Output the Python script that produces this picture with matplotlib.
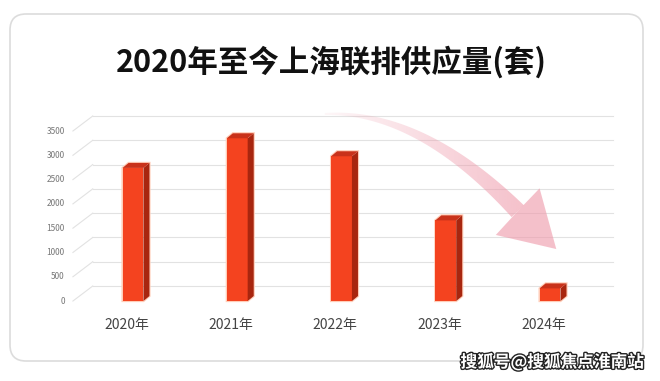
import matplotlib
matplotlib.use("Agg")
import matplotlib.pyplot as plt
from matplotlib.patches import Polygon, FancyBboxPatch
import matplotlib.patheffects as pe
import numpy as np

plt.rcParams['font.family'] = ['Noto Sans CJK SC', 'DejaVu Sans']

# data
years = ['2020年', '2021年', '2022年', '2023年', '2024年']
supply = [2740, 3350, 2980, 1660, 260]
y_ticks = [0, 500, 1000, 1500, 2000, 2500, 3000, 3500]
title = '2020年至今上海联排供应量(套)'
watermark = '搜狐号@搜狐焦点淮南站'

W, H = 660, 381
fig = plt.figure(figsize=(W / 100, H / 100), dpi=100)
fig.patch.set_facecolor('white')

# rounded card
card = FancyBboxPatch((10, H - 361), 633, 347, boxstyle='round,pad=0,rounding_size=16',
                      transform=None, facecolor='none', edgecolor='#dcdcdc', lw=1.2,
                      zorder=-1)
fig.patches.append(card)

# axes placed so value 0 sits at y=301px, 3500 at 131px
ax = fig.add_axes([60 / W, (H - 315.6) / H, 563 / W, 218.6 / H])
ax.set_xlim(-0.7, 4.7)
ax.set_ylim(-300, 4200)
ax.axis('off')

wall_dx, wall_dy = 0.19, 309     # back wall offset (data units)
bw = 0.2                         # bar front width
dx, dy = 0.058, 103              # bar depth

# grid on back wall + perspective diagonals
for v in y_ticks:
    ax.plot([-0.576, -0.576 + wall_dx], [v, v + wall_dy], color='#e2e2e2', lw=0.8, zorder=1)
    ax.plot([-0.576 + wall_dx, 4.6], [v + wall_dy, v + wall_dy], color='#e2e2e2', lw=0.8, zorder=1)
    ax.text(-0.655, v, str(v), ha='right', va='center', fontsize=6, color='#777777')

# 3D-ish bars
for i, v in enumerate(supply):
    x0, x1 = i - bw / 2, i + bw / 2
    front = Polygon([(x0, 0), (x1, 0), (x1, v), (x0, v)], closed=True,
                    facecolor='#f4431f', edgecolor='none', zorder=3)
    side = Polygon([(x1, 0), (x1 + dx, dy), (x1 + dx, v + dy), (x1, v)], closed=True,
                   facecolor='#a8260f', edgecolor='none', zorder=3)
    top = Polygon([(x0, v), (x1, v), (x1 + dx, v + dy), (x0 + dx, v + dy)], closed=True,
                  facecolor='#c9321a', edgecolor='none', zorder=3)
    outline = Polygon([(x0, 0), (x1, 0), (x1 + dx, dy), (x1 + dx, v + dy),
                       (x0 + dx, v + dy), (x0, v)], closed=True,
                      facecolor='none', edgecolor='#ffcdb8', lw=1.6, zorder=2)
    for p in (outline, front, side, top):
        ax.add_patch(p)
    ax.text(i - 0.06, -494, years[i], ha='center', va='center', fontsize=10,
            color='#444444', clip_on=False)

# pink trend arrow: tapered quadratic curve + big head, faded toward its start
fig.canvas.draw()
to_px = ax.transData.transform
p0, p1, p2 = to_px([(1.84, 3850), (2.75, 3930), (3.69, 1850)])
tip, b1, b2 = to_px([(4.06, 1070), (3.90, 2320), (3.48, 1360)])
t = np.linspace(0, 1, 80)
curve = ((1 - t) ** 2)[:, None] * p0 + (2 * t * (1 - t))[:, None] * p1 + (t ** 2)[:, None] * p2
tang = np.gradient(curve, axis=0)
norm = np.stack([-tang[:, 1], tang[:, 0]], axis=1)
norm /= np.linalg.norm(norm, axis=1)[:, None]
half = (1.0 + 7.5 * t ** 1.2)[:, None]
body = np.vstack([curve + norm * half, (curve - norm * half)[::-1]])

ov = fig.add_axes([0, 0, 1, 1], zorder=5)
ov.set_xlim(0, W)
ov.set_ylim(0, H)
ov.axis('off')
ov.patch.set_alpha(0)
pink = np.array([238, 151, 168]) / 255
xs = np.linspace(0, 1, 300)
alpha = np.clip((xs * W - p0[0]) / (p2[0] - p0[0]), 0, 1)
grad = np.zeros((2, 300, 4))
grad[..., :3] = pink
grad[..., 3] = 0.08 + 0.5 * alpha
img = ov.imshow(grad, extent=(0, W, 0, H), aspect='auto', interpolation='bilinear',
                origin='lower')
body_patch = Polygon(body, closed=True, facecolor='none', edgecolor='none')
ov.add_patch(body_patch)
img.set_clip_path(body_patch)
ov.add_patch(Polygon([b1, tip, b2, p2], closed=True, facecolor=pink, edgecolor='none',
                     alpha=0.6))

fig.text(331 / W, 1 - 62 / H, title, ha='center', va='center', fontsize=22,
         fontweight='bold', color='#111111')

fig.text(552 / W, 1 - 362 / H, watermark, ha='center', va='center', fontsize=12,
         fontweight='bold', color='white', zorder=6,
         path_effects=[pe.withStroke(linewidth=2, foreground='#222222')])

fig.savefig('out.png', dpi=100)
